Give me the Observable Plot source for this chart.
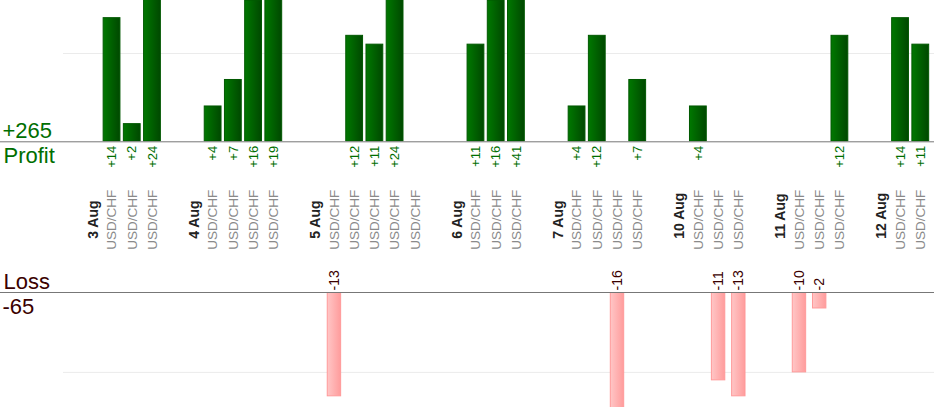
<!DOCTYPE html>
<html><head><meta charset="utf-8">
<script src="https://cdn.jsdelivr.net/npm/d3@7"></script>
<script src="https://cdn.jsdelivr.net/npm/@observablehq/plot@0.6"></script>
<style>body{margin:0;background:#fff} svg{display:block}</style>
</head><body><div id="chart"></div>
<script>
// slot labels along the x axis ("" = spacer between days)
const slotLabels = [
  "3 Aug","USD/CHF","USD/CHF","USD/CHF","",
  "4 Aug","USD/CHF","USD/CHF","USD/CHF","USD/CHF","",
  "5 Aug","USD/CHF","USD/CHF","USD/CHF","USD/CHF","USD/CHF","",
  "6 Aug","USD/CHF","USD/CHF","USD/CHF","",
  "7 Aug","USD/CHF","USD/CHF","USD/CHF","USD/CHF","",
  "10 Aug","USD/CHF","USD/CHF","USD/CHF","",
  "11 Aug","USD/CHF","USD/CHF","USD/CHF","",
  "12 Aug","USD/CHF","USD/CHF"
];
const profitValues = [
  null,14,2,24,null,
  null,4,7,16,19,null,
  null,null,12,11,24,null,null,
  null,11,16,41,null,
  null,4,12,null,7,null,
  null,4,null,null,null,
  null,null,null,12,null,
  null,14,11
];
const lossValues = [
  null,null,null,null,null,
  null,null,null,null,null,null,
  null,13,null,null,null,null,null,
  null,null,null,null,null,
  null,null,null,16,null,null,
  null,null,11,13,null,
  null,10,2,null,null,
  null,null,null
];
const gridValues = [10];

const rows = slotLabels.map((label, i) => ({i, label, profit: profitValues[i], loss: lossValues[i]}));
const profitRows = rows.filter(d => d.profit != null);
const lossRows = rows.filter(d => d.loss != null);
const dateRows = rows.filter(d => /Aug/.test(d.label));
const pairRows = rows.filter(d => d.label === "USD/CHF");
const totalProfit = d3.sum(profitValues);
const totalLoss = d3.sum(lossValues);

const font = "'Liberation Sans', Arial, Helvetica, sans-serif";
const xScale = {type: "band", domain: d3.range(slotLabels.length), range: [80, 931.6], padding: 0.12, round: false, axis: null};
const green = "#006e00", maroon = "#3a0000";

function addGrad(svg, id, c1, c2) {
  d3.select(svg).insert("defs", ":first-child").html(
    `<linearGradient id="${id}" x1="0" x2="1" y1="0" y2="0"><stop offset="0" stop-color="${c1}"/><stop offset="1" stop-color="${c2}"/></linearGradient>`);
}

const profitChart = Plot.plot({
  width: 934, height: 260,
  marginLeft: 0, marginRight: 0, marginTop: 0, marginBottom: 118.7,
  style: {fontFamily: font, background: "transparent"},
  x: xScale,
  y: {domain: [0, 16], axis: null},
  marks: [
    Plot.ruleY(gridValues, {stroke: "#ebebeb", insetLeft: 63}),
    Plot.barY(profitRows, {x: "i", y: "profit", fill: "url(#gGrad)", stroke: "#005800", strokeWidth: 1, insetLeft: 0.5, insetRight: 0.5, clip: true}),
    Plot.ruleY([0], {stroke: "#777"}),
    Plot.text(profitRows, {x: "i", y: () => 0, text: d => "+" + d.profit, rotate: -90, textAnchor: "end", dy: 4, fill: green, fontSize: 13}),
    Plot.text(dateRows, {x: "i", y: () => 0, text: "label", rotate: -90, textAnchor: "start", dy: 97, dx: 1.5, fill: "#222", fontSize: 14, fontWeight: "bold"}),
    Plot.text(pairRows, {x: "i", y: () => 0, text: "label", rotate: -90, textAnchor: "start", dy: 108, fill: "#8a8a8a", fontSize: 13.5}),
    Plot.text(["+" + totalProfit], {y: () => 0, text: d => d, frameAnchor: "left", textAnchor: "start", dx: 2, dy: -10.5, fill: green, fontSize: 22}),
    Plot.text(["Profit"], {y: () => 0, text: d => d, frameAnchor: "left", textAnchor: "start", dx: 3, dy: 14.5, fill: green, fontSize: 22})
  ]
});
addGrad(profitChart, "gGrad", "#007800", "#004800");

const lossChart = Plot.plot({
  width: 934, height: 160,
  marginLeft: 0, marginRight: 0, marginTop: 32, marginBottom: 13,
  style: {fontFamily: font, background: "transparent"},
  x: xScale,
  y: {domain: [0, 14.4], reverse: true, axis: null},
  marks: [
    Plot.ruleY(gridValues, {stroke: "#ebebeb", insetLeft: 63}),
    Plot.barY(lossRows, {x: "i", y: "loss", fill: "url(#rGrad)", stroke: "#ff9a9a", strokeWidth: 1, insetLeft: 2.2, insetRight: 2.2, clip: true}),
    Plot.ruleY([0], {stroke: "#777"}),
    Plot.text(lossRows, {x: "i", y: () => 0, text: d => "-" + d.loss, rotate: -90, textAnchor: "start", dy: -2, fill: maroon, fontSize: 14}),
    Plot.text(["Loss"], {y: () => 0, text: d => d, frameAnchor: "left", textAnchor: "start", dx: 3, dy: -11, fill: maroon, fontSize: 22}),
    Plot.text(["-" + totalLoss], {y: () => 0, text: d => d, frameAnchor: "left", textAnchor: "start", dx: 2, dy: 14, fill: maroon, fontSize: 22})
  ]
});
addGrad(lossChart, "rGrad", "#ffc6c6", "#ff9c9c");

document.getElementById("chart").append(profitChart, lossChart);
</script>
</body></html>
